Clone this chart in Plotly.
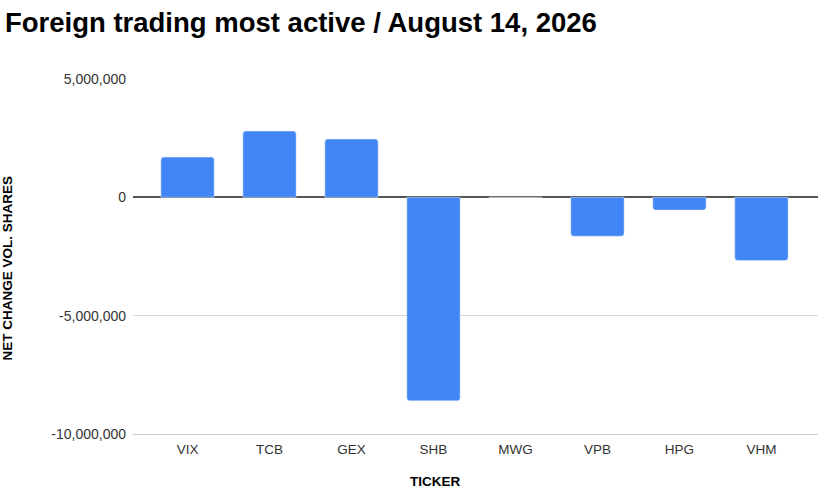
import plotly.graph_objects as go

tickers = ["VIX", "TCB", "GEX", "SHB", "MWG", "VPB", "HPG", "VHM"]
net_change = [1_700_000, 2_800_000, 2_460_000, -8_600_000, 0, -1_640_000, -540_000, -2_670_000]

y_ticks = [5_000_000, 0, -5_000_000, -10_000_000]
y_labels = ["5,000,000", "0", "-5,000,000", "-10,000,000"]

fig = go.Figure(
    go.Bar(
        x=tickers,
        y=net_change,
        marker=dict(color="#4285F4", cornerradius=3),
    )
)

fig.update_layout(
    width=828,
    height=492,
    paper_bgcolor="white",
    plot_bgcolor="white",
    font=dict(family="Liberation Sans, Arial, sans-serif", color="#333333"),
    title=dict(
        text="<b>Foreign trading most active / August 14, 2026</b>",
        x=0.006,
        xanchor="left",
        y=0.955,
        yanchor="middle",
        font=dict(size=27.5, color="#000000"),
    ),
    margin=dict(l=133, r=10, t=79, b=58),
    bargap=0.35,
    showlegend=False,
)

fig.update_xaxes(
    range=[-0.665, 7.69],
    automargin=False,
    showgrid=False,
    showline=True,
    linecolor="#cccccc",
    tickfont=dict(size=13.5, color="#333333"),
    ticks="",
    ticklabelstandoff=3,
)

fig.update_yaxes(
    range=[-10_000_000, 5_000_000],
    automargin=False,
    tickvals=y_ticks,
    ticktext=y_labels,
    showgrid=True,
    gridcolor="#d9d9d9",
    zeroline=True,
    zerolinecolor="#555555",
    zerolinewidth=1.5,
    tickfont=dict(size=14, color="#333333"),
    ticklabelstandoff=6,
)

# axis titles as annotations: the reference doesn't centre them on the plot area
fig.add_annotation(
    text="<b>TICKER</b>", xref="paper", yref="paper", x=0.441, y=-0.135,
    xanchor="center", yanchor="middle", showarrow=False,
    font=dict(size=13.5, color="#000000"),
)
fig.add_annotation(
    text="<b>NET CHANGE VOL. SHARES</b>", xref="paper", yref="paper", x=-0.1825, y=0.469,
    xanchor="center", yanchor="middle", showarrow=False, textangle=-90,
    font=dict(size=13.5, color="#000000"),
)

# drop the browser's default body margin so the figure sits at the page corner
fig.write_html(
    "out.html",
    config={"displayModeBar": False},
    post_script="document.body.style.margin='0';",
)
